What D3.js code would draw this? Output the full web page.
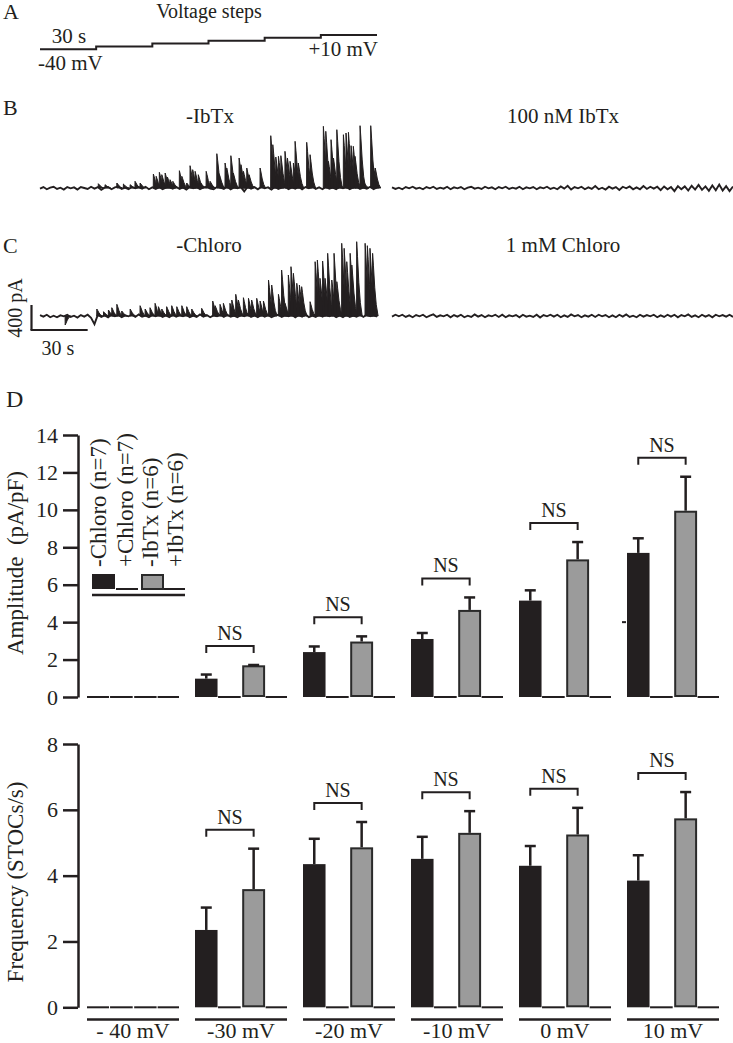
<!DOCTYPE html>
<html><head><meta charset="utf-8">
<script src="https://cdn.jsdelivr.net/npm/d3@7"></script>
<style>
body{margin:0;background:#fff}
svg{display:block}
text{font-family:"Liberation Serif","Times New Roman",serif;fill:#231f20}
</style>
</head><body>
<svg id="fig" width="733" height="1043"></svg>
<script>
// ---------- DATA ----------
const voltageLevels = [-40, -30, -20, -10, 0, 10];
const stepSeconds = [0, 30, 60, 90, 120, 150, 180];
const categories = ["- 40 mV", "-30 mV", "-20 mV", "-10 mV", "0 mV", "10 mV"];
const ampCtrl    = [0, 0.98, 2.40, 3.10, 5.15, 7.70];
const ampCtrlErr = [0, 0.22, 0.30, 0.32, 0.55, 0.78];
const ampDrug    = [0, 1.64, 2.91, 4.60, 7.30, 9.90];
const ampDrugErr = [0, 0.07, 0.33, 0.72, 0.98, 1.87];
const freqCtrl    = [0, 2.35, 4.35, 4.51, 4.30, 3.85];
const freqCtrlErr = [0, 0.68, 0.77, 0.67, 0.60, 0.77];
const freqDrug    = [0, 3.56, 4.83, 5.27, 5.22, 5.71];
const freqDrugErr = [0, 1.26, 0.80, 0.69, 0.84, 0.83];
const ampTicks = [0, 2, 4, 6, 8, 10, 12, 14];
const freqTicks = [0, 2, 4, 6, 8];
const sigLabels = ["", "NS", "NS", "NS", "NS", "NS"];
const legendLabels = ["-Chloro (n=7)", "+Chloro (n=7)", "-IbTx (n=6)", "+IbTx (n=6)"];

// STOC events (time s, amplitude pA)
const ibtxEventT = [31.1,34.7,41.0,44.5,48.1,50.7,53.4,60.5,62.0,63.7,65.0,66.8,68.0,69.4,70.9,74.4,75.7,78.3,80.1,81.5,82.8,84.5,85.8,88.7,90.8,94.4,95.8,98.8,99.7,101.9,103.2,106.3,107.3,108.6,110.4,111.6,117.5,123.2,124.3,125.9,127.3,128.6,130.8,132.1,133.5,135.3,136.2,137.9,142.4,144.2,151.3,152.6,154.0,155.4,156.7,158.5,159.3,162.0,163.4,164.7,166.1,167.3,168.2,170.9,172.7,176.6,178.0,179.0];
const ibtxEventA = [69,53,80,64,53,107,80,224,187,251,213,240,176,133,107,277,187,80,357,293,267,213,80,267,107,549,213,400,320,517,240,480,373,267,320,213,320,837,693,496,507,517,587,480,427,400,747,400,731,533,987,907,427,773,480,933,133,853,880,891,677,667,507,997,107,997,347,320];
const chloroEventT = [13.4,30.3,33.9,36.5,38.3,41.0,43.6,48.1,53.4,56.1,58.7,61.4,63.2,65.0,67.6,70.3,73.0,75.7,78.3,81.0,86.3,92.2,93.5,96.1,97.9,101.4,102.4,104.5,105.9,108.6,111.3,113.0,115.7,117.5,119.3,122.0,123.7,127.3,129.0,130.8,132.6,134.0,135.3,137.1,138.5,139.7,144.2,146.9,148.1,149.5,150.9,152.2,153.6,155.8,157.0,158.5,161.1,162.4,163.8,165.6,166.5,169.1,173.6,174.8,176.2,177.6];
const chloroEventA = [-144,112,69,96,133,187,80,112,165,112,133,203,149,112,149,165,149,165,149,112,123,240,165,187,203,203,256,347,256,293,283,256,283,240,240,576,496,347,736,203,656,789,683,523,496,469,229,869,896,603,880,603,1003,576,1003,549,1163,1083,869,1003,816,1189,1163,1125,1083,1003];

// baseline noise of the four recordings (pA), evenly spread over 180 s
const ibtxNoise = [-10,15,-20,5,20,-15,5,-25,15,-5,10,-25,15,0,-15,20,-10,15,-30,5,
 15,-20,10,25,-15,5,-20,15,-5,15,-10,20,-20,10,-15,15,-20,5,15,-10,
 20,-15,10,-25,20,-5,15,-20,10,20,-10,-20,15,5,-15,25,-20,10,-5,15,
 -55,20,-10,15,-20,20,-5,10,-25,20,-15,5,20,-20,10,-10,20,-20,15,-5,
 25,-15,10,-20,20,-10,5,-20,20,-5,15,-20,10,20,-15,5,-10,20,-20,10];
const ibtxDrugNoise = [10,-15,5,-20,15,-5,20,-10,5,-20,15,-5,20,-15,5,-10,20,-20,10,-5,
 15,-20,5,20,-10,5,-15,20,-5,10,-20,15,-5,20,-15,5,-10,20,-20,10,
 -5,15,-20,10,-5,20,-15,5,-20,25,-10,35,-25,15,-5,20,-20,10,-15,30,
 -20,5,-25,20,-10,15,-30,20,-5,25,-20,10,-20,30,-15,20,-10,20,-35,25,
 -20,15,-50,30,-20,25,-40,35,-25,50,-30,25,-45,40,-35,55,-40,30,-50,25];
const chloroNoise = [15,-10,20,-20,5,-20,10,-5,20,-15,5,-25,15,-10,20,-30,-130,20,-15,10,
 -20,25,-5,15,-20,10,-5,20,-15,25,-10,5,-20,15,-5,20,-15,10,-20,20,
 -10,15,-5,20,-20,5,-15,25,-10,15,-20,10,-5,20,-15,20,-10,5,-20,15,
 -5,25,-15,10,-20,20,-10,15,-20,5,20,-15,10,-5,20,-20,15,-10,25,-20,
 5,-15,20,-10,20,-5,15,-20,10,-20,20,-15,5,-10,20,-15,25,-5,15,-10];
const chloroDrugNoise = [-10,20,-5,20,-15,10,-20,15,-5,20,-20,5,25,-15,10,-5,20,-20,15,-10,
 20,-20,5,-15,25,-10,15,-20,10,-5,20,-15,20,-20,10,-5,15,-20,20,-10,
 5,-15,20,-25,15,-5,20,-10,20,-20,10,-15,25,-5,15,-20,10,-10,20,-15,
 20,-5,15,-20,10,-20,20,-10,25,-15,5,-20,20,-10,15,-5,20,-20,10,-15,
 20,-10,20,-20,15,-5,25,-15,10,-20,20,-10,15,-20,20,-5,15,-10,20,-15];

// ---------- DRAWING ----------
const ink = "#231f20";
const grayFill = "#9b9b9b";
const svg = d3.select("#fig");

function label(x, y, str, size, anchor = "start", rotate = 0) {
  const t = svg.append("text").attr("font-size", size).attr("text-anchor", anchor).text(str);
  if (rotate) t.attr("transform", `translate(${x},${y}) rotate(${rotate})`);
  else t.attr("x", x).attr("y", y);
  return t;
}
function seg(x1, y1, x2, y2, w = 2) {
  svg.append("line").attr("x1", x1).attr("y1", y1).attr("x2", x2).attr("y2", y2)
    .attr("stroke", ink).attr("stroke-width", w);
}

// Panel A: voltage protocol
label(3, 19, "A", 22);
label(209, 18, "Voltage steps", 20, "middle");
const xStep = d3.scaleLinear([0, 180], [40, 377]);
const yStep = d3.scaleLinear([-40, 10], [49.3, 35]);
const stepPts = voltageLevels.map((v, i) => [stepSeconds[i], v]).concat([[stepSeconds[6], voltageLevels[5]]]);
svg.append("path").attr("d", d3.line().x(d => xStep(d[0])).y(d => yStep(d[1])).curve(d3.curveStepAfter)(stepPts))
  .attr("fill", "none").attr("stroke", ink).attr("stroke-width", 2);
label(69, 43, "30 s", 21, "middle");
label(38, 70, "-40 mV", 21);
label(378, 56, "+10 mV", 21, "end");

// Traces
const xL = d3.scaleLinear([0, 180], [40, 377]);
const xR = d3.scaleLinear([0, 180], [392, 733]);
const yB = d3.scaleLinear([0, 400], [188, 163]);
const yC = d3.scaleLinear([0, 400], [316, 291]);
const evShape = [[0, 0], [0.05, 1], [0.5, 0.8], [1.2, 0.45], [2.0, 0.18], [3.0, 0]];
function drawTrace(xs, ys, noise, evT, evA) {
  const n = noise.length;
  const pts = noise.map((v, i) => [i * 180 / (n - 1), v]);
  svg.append("path").attr("d", d3.line().x(d => xs(d[0])).y(d => ys(d[1]))(pts))
    .attr("fill", "none").attr("stroke", ink).attr("stroke-width", 1.9);
  (evT || []).forEach((t, i) => {
    const p = evShape.map(s => [t + s[0], evA[i] * s[1]]);
    svg.append("path").attr("d", d3.line().x(d => xs(d[0])).y(d => ys(d[1]))(p) + "Z")
      .attr("fill", ink).attr("stroke", ink).attr("stroke-width", 1);
  });
}
label(3, 115, "B", 22);
label(210, 123, "-IbTx", 21, "middle");
label(563, 123, "100 nM IbTx", 21, "middle");
drawTrace(xL, yB, ibtxNoise, ibtxEventT, ibtxEventA);
drawTrace(xR, yB, ibtxDrugNoise);

label(3, 253, "C", 22);
label(209, 252, "-Chloro", 21, "middle");
label(563, 252, "1 mM Chloro", 21, "middle");
drawTrace(xL, yC, chloroNoise, chloroEventT, chloroEventA);
drawTrace(xR, yC, chloroDrugNoise);

// scale bar
const sbX = 31.5, sbY = 330;
seg(sbX, sbY, sbX, sbY - (yC(0) - yC(400)), 2.2);
seg(sbX - 1, sbY, sbX + (xL(30) - xL(0)), sbY, 2.2);
label(22, 308, "400 pA", 20, "middle", -90);
label(58, 355, "30 s", 20, "middle");

// Panel D
label(6, 407, "D", 24);

const xg = d3.scaleBand(categories, [87, 719]).paddingInner(16 / 108).paddingOuter(0);
const bw = xg.bandwidth();
const slot = { cb: 0, cl: 0.245, gb: 0.513, gl: 0.762, end: 1 };

function drawPanel(y, ticks, ctrl, ctrlErr, drug, drugErr, ylabel, ylabelY) {
  const ax = svg.append("g").attr("transform", "translate(78,0)")
    .call(d3.axisLeft(y).tickValues(ticks).tickSize(15).tickSizeOuter(0).tickPadding(5));
  ax.select(".domain").attr("stroke", ink).attr("stroke-width", 2.5);
  ax.selectAll(".tick line").attr("stroke", ink).attr("stroke-width", 2.5);
  ax.selectAll(".tick text").attr("font-size", 22).attr("fill", ink)
    .attr("font-family", '"Liberation Serif","Times New Roman",serif');
  label(23, ylabelY, ylabel, 23, "middle", -90);

  const y0 = y(0);
  categories.forEach((c, i) => {
    const x0 = xg(c);
    const cbx = x0 + bw * slot.cb, clx = x0 + bw * slot.cl, gbx = x0 + bw * slot.gb, glx = x0 + bw * slot.gl;
    if (ctrl[i] > 0) {
      svg.append("rect").attr("x", cbx).attr("y", y(ctrl[i])).attr("width", clx - cbx).attr("height", y0 - y(ctrl[i]))
        .attr("fill", ink);
      const cx = (cbx + clx) / 2;
      seg(cx, y(ctrl[i]), cx, y(ctrl[i] + ctrlErr[i]), 2.5);
      seg(cx - 5.5, y(ctrl[i] + ctrlErr[i]), cx + 5.5, y(ctrl[i] + ctrlErr[i]), 2.5);
    } else seg(cbx, y0, clx - 0.5, y0, 2);
    seg(clx + 0.5, y0, gbx - 1.5, y0, 2);
    if (drug[i] > 0) {
      svg.append("rect").attr("x", gbx + 1).attr("y", y(drug[i])).attr("width", glx - gbx - 2).attr("height", y0 - y(drug[i]) - 1)
        .attr("fill", grayFill).attr("stroke", "#2a2a2a").attr("stroke-width", 2);
      const gx = (gbx + glx) / 2;
      seg(gx, y(drug[i]) - 1, gx, y(drug[i] + drugErr[i]), 2.5);
      seg(gx - 5.5, y(drug[i] + drugErr[i]), gx + 5.5, y(drug[i] + drugErr[i]), 2.5);
    } else seg(gbx, y0, glx - 0.5, y0, 2);
    seg(glx + 0.5, y0, x0 + bw, y0, 2);
    if (sigLabels[i]) {
      const top = Math.min(y(ctrl[i] + ctrlErr[i]), y(drug[i] + drugErr[i])) - 19;
      const lx = (cbx + clx) / 2, rx = (gbx + glx) / 2;
      svg.append("path").attr("d", `M${lx},${top + 7}V${top}H${rx}V${top + 7}`)
        .attr("fill", "none").attr("stroke", ink).attr("stroke-width", 2);
      label((lx + rx) / 2, top - 6, sigLabels[i], 20, "middle");
    }
  });
}

const yAmp = d3.scaleLinear([0, 14], [697, 435]);
drawPanel(yAmp, ampTicks, ampCtrl, ampCtrlErr, ampDrug, ampDrugErr, "Amplitude\u00a0\u00a0(pA/pF)", 563);
seg(xg(categories[5]) - 5, yAmp(4), xg(categories[5]) - 1, yAmp(4), 2);

const yFreq = d3.scaleLinear([0, 8], [1007.3, 744]);
drawPanel(yFreq, freqTicks, freqCtrl, freqCtrlErr, freqDrug, freqDrugErr, "Frequency (STOCs/s)", 882);

categories.forEach(c => {
  seg(xg(c), 1019.5, xg(c) + bw, 1019.5, 2.5);
  label(xg(c) + bw / 2, 1038, c, 22, "middle");
});

// legend
const lg = { x: 92, top: 574, base: 589, under: 595 };
svg.append("rect").attr("x", lg.x).attr("y", lg.top).attr("width", 23).attr("height", lg.base - lg.top).attr("fill", ink);
seg(116, lg.base, 138, lg.base, 2);
svg.append("rect").attr("x", 142).attr("y", lg.top + 1).attr("width", 21).attr("height", lg.base - lg.top - 1)
  .attr("fill", grayFill).attr("stroke", "#2a2a2a").attr("stroke-width", 2);
seg(164, lg.base, 185, lg.base, 2);
seg(92, lg.under, 185, lg.under, 2.5);
const legendX = [106, 133, 158, 183];
legendLabels.forEach((t, i) => label(legendX[i], 567, t, 23, "start", -90));
</script>
</body></html>
